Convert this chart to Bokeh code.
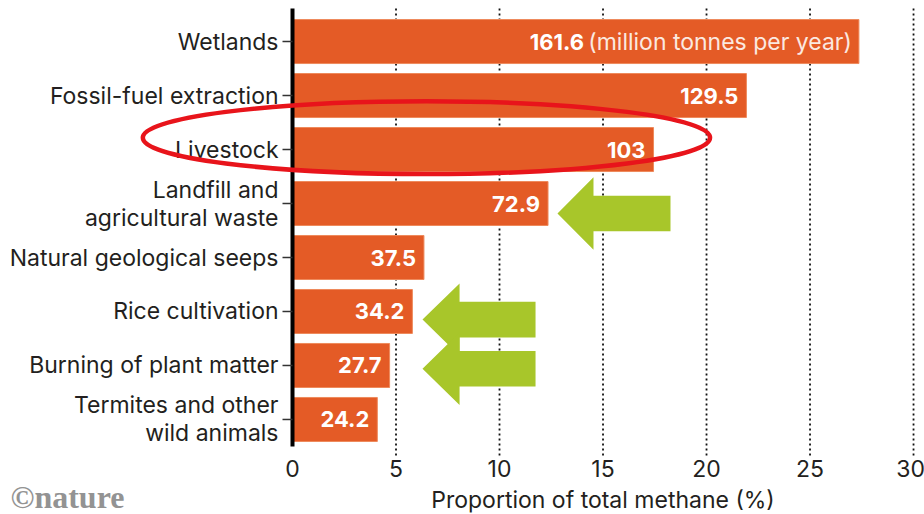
import math

from bokeh.plotting import figure
from bokeh.models import ColumnDataSource, Range1d
from bokeh.embed import file_html
from bokeh.resources import INLINE
from bokeh.core.properties import value

# Global methane sources, million tonnes per year
sources = [
    "Wetlands",
    "Fossil-fuel extraction",
    "Livestock",
    "Landfill and\nagricultural waste",
    "Natural geological seeps",
    "Rice cultivation",
    "Burning of plant matter",
    "Termites and other\nwild animals",
]
emissions = [161.6, 129.5, 103, 72.9, 37.5, 34.2, 27.7, 24.2]
emission_labels = ["161.6", "129.5", "103", "72.9", "37.5", "34.2", "27.7", "24.2"]
x_ticks = [0, 5, 10, 15, 20, 25, 30]
x_tick_labels = ["0", "5", "10", "15", "20", "25", "30"]
x_title = "Proportion of total methane (%)"
unit_note = "(million tonnes per year)"
credit = "©nature"

FONT = "Inter"
BAR = "#e45b26"
TEXT = "#231f20"
GREEN = "#a8c62a"
RED = "#e8141b"

total = sum(emissions)
share = [v / total * 100 for v in emissions]
pos = list(range(len(sources)))

# the first number is followed by the unit note, so it sits further left
num_offset = [-275 if i == 0 else -8 for i in pos]
# keep the last tick label inside the canvas edge
tick_offset = [0] * (len(x_ticks) - 1) + [-3]

src = ColumnDataSource(dict(pos=pos, share=share, lab=emission_labels,
                            off=num_offset, name=sources))

# the frame fills the whole canvas; axes are drawn by hand so that
# labels and annotations can share one coordinate system
p = figure(
    width=924, height=514,
    x_range=Range1d(-14.106, 30.53), y_range=Range1d(8.76, -0.76),
    output_backend="svg", toolbar_location=None,
    x_axis_location=None, y_axis_location=None,
    min_border=0,
)
p.outline_line_color = None
p.xgrid.grid_line_color = None
p.ygrid.grid_line_color = None

top, bottom = -0.611, 7.5

# dotted vertical gridlines, running a little below the plot body
p.segment(x0=x_ticks[1:], y0=top, x1=x_ticks[1:], y1=7.68,
          line_color="#111111", line_dash="2 3", line_width=1.8)

p.hbar(y="pos", left=0, right="share", height=0.815, source=src,
       fill_color=BAR, line_color="#ee8a5c", line_width=1)

p.text(x="share", y="pos", text="lab", x_offset="off", source=src,
       text_align="right", text_baseline="middle", text_color="white",
       text_font=value(FONT), text_font_style="bold", text_font_size="22px")
p.text(x=[share[0]], y=[pos[0]], text=[unit_note], x_offset=-7,
       text_align="right", text_baseline="middle", text_color="#fbe9e0",
       text_font=value(FONT), text_font_size="23px")

# category axis: heavy spine, short outward ticks, right-aligned names
p.segment(x0=[0], y0=[top], x1=[0], y1=[bottom], line_color="black", line_width=4)
p.ray(x=0, y="pos", length=10, length_units="screen", angle=math.pi,
      line_color="#333333", line_width=1.5, source=src)
p.text(x=0, y="pos", text="name", x_offset=-14, source=src,
       text_align="right", text_baseline="middle", text_color=TEXT,
       text_font=value(FONT), text_font_size="23px", text_line_height=1.0)

# value axis labels
p.text(x=x_ticks, y=7.9, text=x_tick_labels, x_offset=tick_offset,
       text_align="center", text_baseline="middle", text_color=TEXT,
       text_font=value(FONT), text_font_size="23px")
p.text(x=[15], y=[8.5], text=[x_title],
       text_align="center", text_baseline="middle", text_color=TEXT,
       text_font=value(FONT), text_font_size="23px")

# highlight around the livestock row
p.ellipse(x=[6.47], y=[1.78], width=27.4, height=1.35,
          fill_color=None, line_color=RED, line_width=4.5)


def arrow(tip_x, tip_y, tail_x, head_len, head_half, shaft_half):
    hx = tip_x + head_len
    xs = [tip_x, hx, hx, tail_x, tail_x, hx, hx]
    ys = [tip_y, tip_y - head_half, tip_y - shaft_half, tip_y - shaft_half,
          tip_y + shaft_half, tip_y + shaft_half, tip_y + head_half]
    return xs, ys


arrows = [
    arrow(12.8, 3.185, 18.26, 1.74, 0.67, 0.33),
    arrow(6.28, 5.15, 11.74, 1.79, 0.67, 0.33),
    arrow(6.28, 6.06, 11.74, 1.79, 0.67, 0.33),
]
p.patches(xs=[a[0] for a in arrows], ys=[a[1] for a in arrows],
          fill_color=GREEN, line_color=None)

p.text(x=[0], y=[8.43], text=[credit], x_offset=-282,
       text_align="left", text_baseline="middle", text_color="#939393",
       text_font=value("Liberation Serif"), text_font_style="bold",
       text_font_size="32px")

open("out.html", "w").write(file_html(p, INLINE))
